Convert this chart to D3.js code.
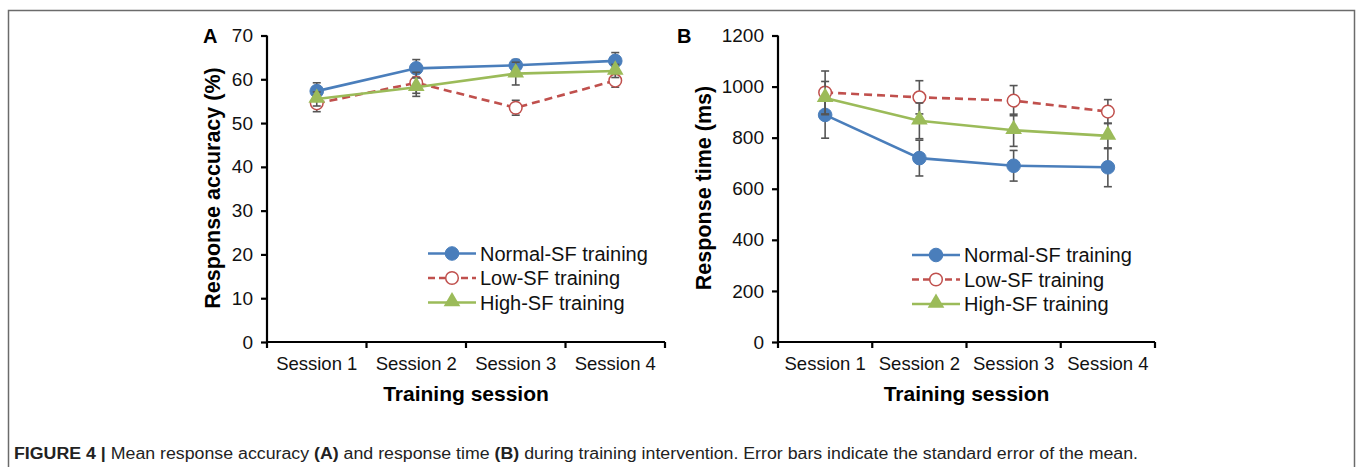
<!DOCTYPE html>
<html>
<head>
<meta charset="utf-8">
<script src="https://cdn.jsdelivr.net/npm/d3@7"></script>
<style>
  body { margin: 0; background: #fff; }
  svg { display: block; font-family: "Liberation Sans", Arial, sans-serif; }
</style>
</head>
<body>
<svg id="mainSvg" width="1357" height="467"></svg>
<script>
// chart values
var sessions = ["Session 1", "Session 2", "Session 3", "Session 4"];
var seriesNames = ["Normal-SF training", "Low-SF training", "High-SF training"];

var accNormal = [57.3, 62.5, 63.2, 64.2];
var accNormalSE = [1.9, 2.0, 1.3, 1.9];
var accLow = [54.5, 59.2, 53.5, 59.7];
var accLowSE = [1.9, 2.4, 1.7, 1.5];
var accHigh = [55.5, 58.2, 61.3, 61.9];
var accHighSE = [1.6, 2.1, 2.6, 1.5];

var rtNormal = [889, 720, 690, 684];
var rtNormalSE = [91, 70, 60, 76];
var rtLow = [977, 958, 945, 902];
var rtLowSE = [84, 65, 59, 47];
var rtHigh = [955, 866, 829, 807];
var rtHighSE = [65, 70, 63, 50];

var accTicks = [0, 10, 20, 30, 40, 50, 60, 70];
var rtTicks = [0, 200, 400, 600, 800, 1000, 1200];

var colors = ["#4a7ebb", "#c0504d", "#9bbb59"];
var markers = ["circle", "open", "triangle"];

var svg = d3.select("#mainSvg");

// figure frame
svg.append("rect")
  .attr("x", 8.5).attr("y", 10.5)
  .attr("width", 1346).attr("height", 480)
  .style("fill", "none").style("stroke", "#6b6b6b").style("stroke-width", 1.5);

function drawPanel(opts){
  var x = d3.scaleBand().domain(sessions).range([opts.x0, opts.x1]);
  var y = d3.scaleLinear().domain([0, opts.ymax]).range([342, 35.5]);
  var g = svg.append("g");

  // y axis
  var yAxis = g.append("g")
    .attr("transform", "translate(" + opts.x0 + ",0)")
    .call(d3.axisLeft(y).tickValues(opts.ticks).tickFormat(d3.format("d")).tickSize(6).tickPadding(8));
  yAxis.select(".domain").attr("d", "M0," + y(opts.ymax) + "V" + y(0));

  // x axis, ticks at the band edges
  var xAxis = g.append("g")
    .attr("transform", "translate(0,342)");
  xAxis.append("path")
    .attr("class", "domain")
    .attr("d", "M" + opts.x0 + ",0H" + opts.x1);
  var edges = sessions.map(function(s){ return x(s); }).concat([opts.x1]);
  xAxis.selectAll(".edge").data(edges).enter().append("line")
    .attr("class", "edge")
    .attr("x1", function(d){ return d; }).attr("x2", function(d){ return d; })
    .attr("y1", 0).attr("y2", 6);
  xAxis.selectAll(".lbl").data(sessions).enter().append("text")
    .attr("class", "lbl")
    .attr("x", function(d){ return x(d) + x.bandwidth()/2; })
    .attr("y", 28)
    .attr("text-anchor", "middle")
    .text(function(d){ return d; });

  g.selectAll(".domain, line").style("stroke", "#000").style("stroke-width", 2.2);
  g.selectAll("text").style("font-size", "19px").style("fill", "#111");
  xAxis.selectAll(".lbl").style("font-size", "18.5px");

  // titles
  g.append("text")
    .attr("transform", "translate(" + opts.ytitleX + ",188) rotate(-90)")
    .attr("text-anchor", "middle")
    .style("font-size", "21.5px").style("font-weight", "bold")
    .text(opts.ytitle);
  g.append("text")
    .attr("x", (opts.x0 + opts.x1)/2).attr("y", 401)
    .attr("text-anchor", "middle")
    .style("font-size", "21px").style("font-weight", "bold")
    .text("Training session");
  g.append("text")
    .attr("x", opts.letterX).attr("y", 43)
    .style("font-size", "20px").style("font-weight", "bold")
    .text(opts.letter);

  var cx = function(i){ return x(sessions[i]) + x.bandwidth()/2; };

  opts.series.forEach(function(s, k){
    var sg = g.append("g");
    // error bars
    s.values.forEach(function(v, i){
      var top = y(v + s.se[i]), bot = y(v - s.se[i]);
      sg.append("line").attr("x1", cx(i)).attr("x2", cx(i)).attr("y1", top).attr("y2", bot);
      sg.append("line").attr("x1", cx(i) - 4).attr("x2", cx(i) + 4).attr("y1", top).attr("y2", top);
      sg.append("line").attr("x1", cx(i) - 4).attr("x2", cx(i) + 4).attr("y1", bot).attr("y2", bot);
    });
    sg.selectAll("line").style("stroke", "#555").style("stroke-width", 1.6);

    var line = d3.line()
      .x(function(d, i){ return cx(i); })
      .y(function(d){ return y(d); });
    sg.append("path")
      .datum(s.values)
      .attr("d", line)
      .style("fill", "none")
      .style("stroke", colors[k])
      .style("stroke-width", 2.6)
      .style("stroke-dasharray", markers[k] == "open" ? "8,5" : null);

    s.values.forEach(function(v, i){
      drawMarker(sg, markers[k], colors[k], cx(i), y(v));
    });
  });

  // legend
  seriesNames.forEach(function(name, k){
    var ly = opts.legY + k * 24.5;
    var lg = g.append("g");
    lg.append("line")
      .attr("x1", opts.legX).attr("x2", opts.legX + 48)
      .attr("y1", ly).attr("y2", ly)
      .style("stroke", colors[k]).style("stroke-width", 2.6)
      .style("stroke-dasharray", markers[k] == "open" ? "7,4" : null);
    drawMarker(lg, markers[k], colors[k], opts.legX + 24, ly);
    lg.append("text")
      .attr("x", opts.legX + 52).attr("y", ly + 7)
      .style("font-size", "20px").style("fill", "#111")
      .text(name);
  });
}

function drawMarker(sel, type, color, mx, my){
  if(type == "circle"){
    sel.append("circle").attr("cx", mx).attr("cy", my).attr("r", 6.8)
      .style("fill", color).style("stroke", color);
  }
  else if(type == "open"){
    sel.append("circle").attr("cx", mx).attr("cy", my).attr("r", 6.3)
      .style("fill", "#fff").style("stroke", color).style("stroke-width", 1.5);
  }
  else {
    sel.append("path")
      .attr("d", d3.symbol().type(d3.symbolTriangle).size(120))
      .attr("transform", "translate(" + mx + "," + (my - 1) + ")")
      .style("fill", color);
  }
}

drawPanel({
  x0: 267, x1: 665, ymax: 70, ticks: accTicks,
  ytitle: "Response accuracy (%)", ytitleX: 220,
  letter: "A", letterX: 203,
  legX: 428, legY: 253.5,
  series: [
    {values: accNormal, se: accNormalSE},
    {values: accLow, se: accLowSE},
    {values: accHigh, se: accHighSE}
  ]
});

drawPanel({
  x0: 778, x1: 1155, ymax: 1200, ticks: rtTicks,
  ytitle: "Response time (ms)", ytitleX: 711,
  letter: "B", letterX: 677,
  legX: 912, legY: 255,
  series: [
    {values: rtNormal, se: rtNormalSE},
    {values: rtLow, se: rtLowSE},
    {values: rtHigh, se: rtHighSE}
  ]
});

// caption
var cap = svg.append("text")
  .attr("x", 14).attr("y", 459)
  .style("font-size", "16px").style("fill", "#222");
cap.append("tspan").style("font-weight", "bold").text("FIGURE 4 |");
cap.append("tspan").text(" Mean response accuracy ");
cap.append("tspan").style("font-weight", "bold").text("(A)");
cap.append("tspan").text(" and response time ");
cap.append("tspan").style("font-weight", "bold").text("(B)");
cap.append("tspan").text(" during training intervention. Error bars indicate the standard error of the mean.");
cap.attr("textLength", 1124).attr("lengthAdjust", "spacingAndGlyphs");
</script>
</body>
</html>
